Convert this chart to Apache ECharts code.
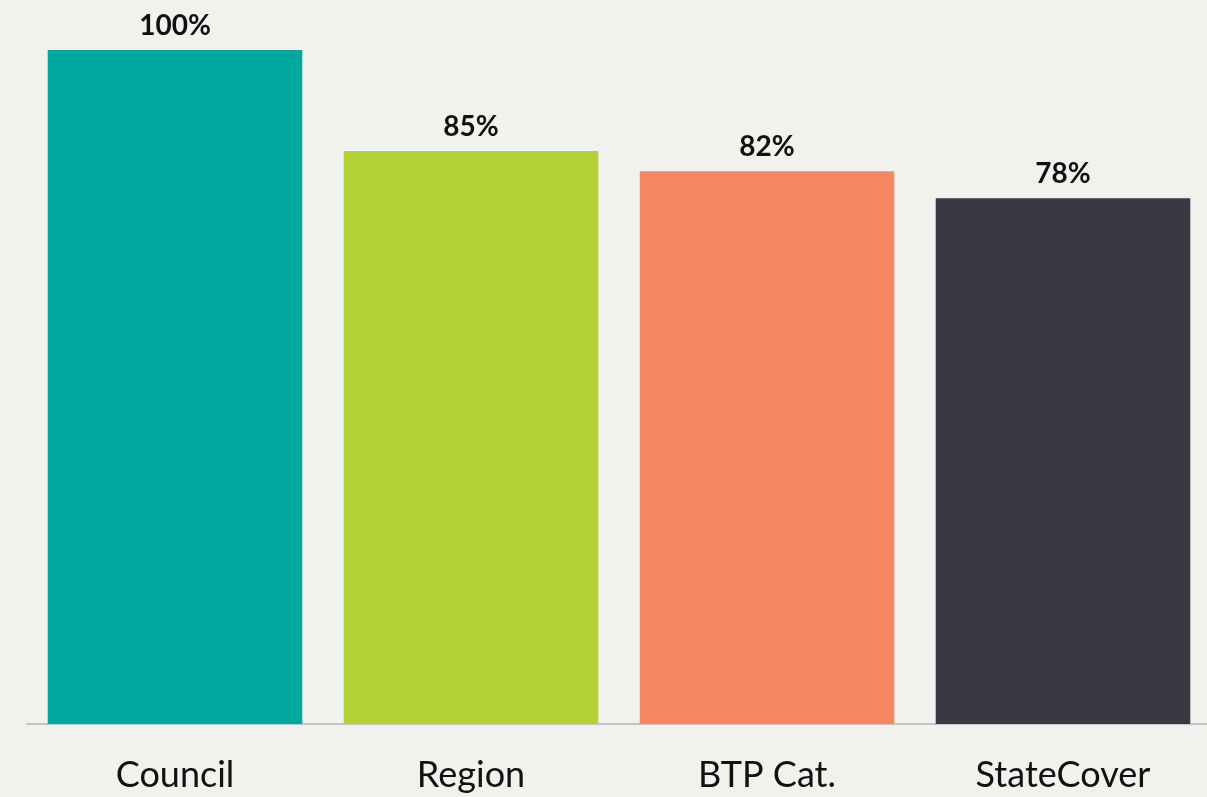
<!DOCTYPE html>
<html><head><meta charset="utf-8">
<script src="https://cdn.jsdelivr.net/npm/echarts@6/dist/echarts.min.js"></script>
<style>html,body{margin:0;padding:0;background:#f1f1ed;}#c{width:1207px;height:797px;}</style>
</head><body><div id="c"></div>
<script>
const categories = ['Council', 'Region', 'BTP Cat.', 'StateCover'];
const values = [100, 85, 82, 78];
const colors = ['#00a99d', '#b2d235', '#f58862', '#3a3844'];

const chart = echarts.init(document.getElementById('c'));
chart.setOption({
  backgroundColor: '#f1f1ed',
  animation: false,
  grid: { left: 27, top: 50, right: -4, bottom: 73, containLabel: false, outerBoundsMode: 'none' },
  xAxis: {
    type: 'category',
    data: categories,
    axisLine: { lineStyle: { color: '#c4c4c4', width: 2 } },
    axisTick: { show: false },
    axisLabel: { color: '#111', fontSize: 36, fontFamily: 'Lato', margin: 33 }
  },
  yAxis: {
    type: 'value', min: 0, max: 100, show: false, splitLine: { show: false }
  },
  series: [{
    type: 'bar',
    barCategoryGap: '14%',
    data: values.map((v, i) => ({ value: v, itemStyle: { color: colors[i] } })),
    label: {
      show: true, position: 'top', distance: 10,
      formatter: p => p.value + '%',
      fontFamily: 'Lato', fontWeight: 'bold', fontSize: 28, color: '#111'
    }
  }]
});
</script></body></html>
